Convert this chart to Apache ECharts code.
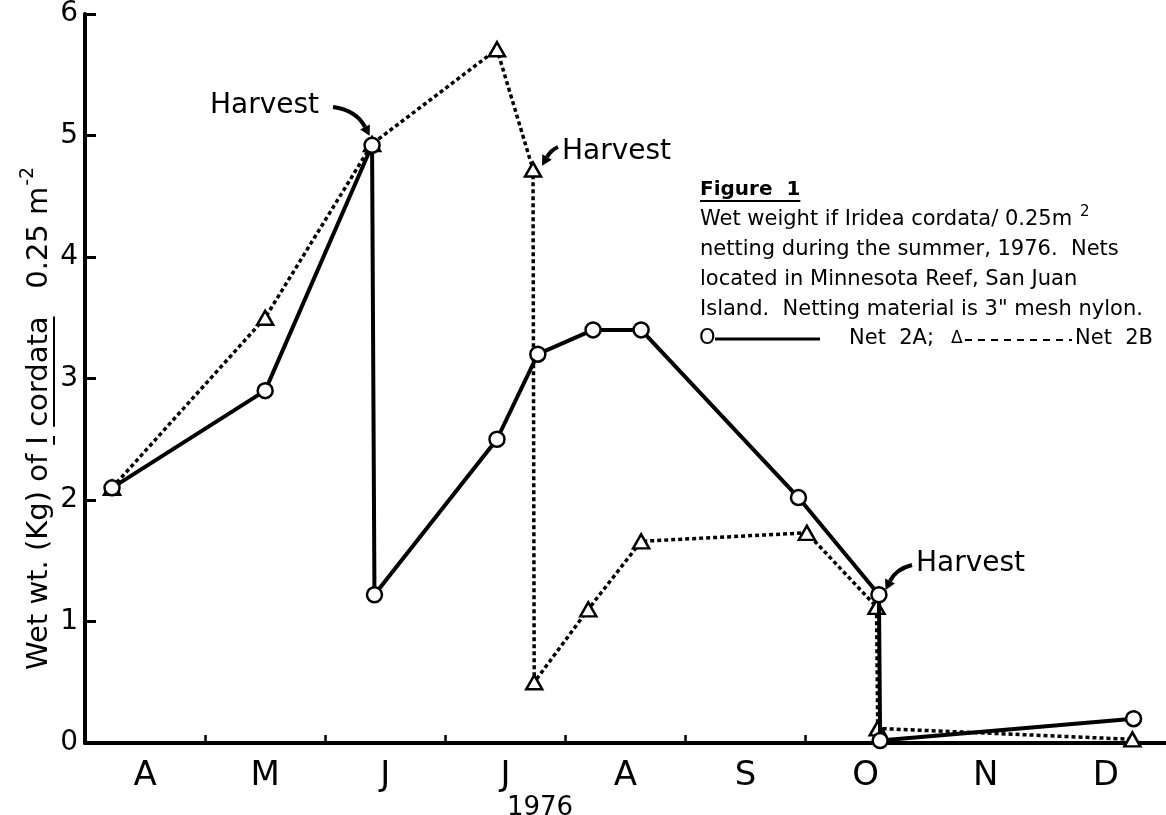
<!DOCTYPE html>
<html><head><meta charset="utf-8">
<script src="https://cdn.jsdelivr.net/npm/echarts@6/dist/echarts.min.js"></script>
<style>html,body{margin:0;padding:0;background:#fff}#c{width:1166px;height:815px}</style>
</head><body><div id="c"></div>
<script>
// ---- data (x = months since 1 April 1976) ----
const months = ['A','M','J','J','A','S','O','N','D'];
const monthEdgeTicks = [1,2,3,4,5,6];
const net2A_x = [0.225, 1.5, 2.39, 2.41, 3.43, 3.77, 4.23, 4.63, 5.94, 6.61, 6.62, 8.73];
const net2A_y = [2.1,   2.9, 4.92, 1.22, 2.5,  3.2,  3.4,  3.4,  2.02, 1.22, 0.02, 0.2];
const net2B_x = [0.225, 1.5, 2.39, 3.43, 3.73, 3.74, 4.19, 4.63, 6.01, 6.59, 6.6,  8.72];
const net2B_y = [2.1,   3.5, 4.93, 5.71, 4.72, 0.5,  1.1,  1.66, 1.73, 1.12, 0.12, 0.03];
const captionTitle = 'Figure  1';
const captionLines = [
  'Wet weight if Iridea cordata/ 0.25m',
  'netting during the summer, 1976.  Nets',
  'located in Minnesota Reef, San Juan',
  'Island.  Netting material is 3" mesh nylon.'
];
const yearLabel = '1976';
const harvestLabel = 'Harvest';

const F = 'DejaVu Sans';
const W = 'normal';
const ctx = document.createElement('canvas').getContext('2d');
function tw(t, size, weight){ ctx.font = (weight||'normal') + ' ' + size + 'px "' + F + '"'; return ctx.measureText(t).width; }

const zip = (xs, ys) => xs.map((x, i) => [x, ys[i]]);

// ---- y-axis title (rotated, with underlined species name) ----
const TS = 29;
const titleParts = [
  {t:'Wet wt. (Kg) of ', u:false},
  {t:'I', u:true},
  {t:' ', u:false},
  {t:'cordata', u:true},
  {t:'   0.25 m', u:false}
];
const titleChildren = [];
let cur = 0;
titleParts.forEach(p => {
  const w = tw(p.t, TS, W);
  titleChildren.push({type:'text', x:cur, y:-0.35*TS, style:{text:p.t, fontSize:TS, fontFamily:F, fontWeight:W, fill:'#000', verticalAlign:'middle', align:'left'}});
  if (p.u) titleChildren.push({type:'line', shape:{x1:cur, y1:4, x2:cur+w, y2:4}, style:{stroke:'#000', lineWidth:2}});
  cur += w;
});
titleChildren.push({type:'text', x:cur+1, y:-0.35*TS-12, style:{text:'-2', fontSize:19, fontFamily:F, fontWeight:W, fill:'#000', verticalAlign:'middle', align:'left'}});

// ---- arrows ----
function arrow(x1,y1,cx,cy,x2,y2){
  let dx = x2-cx, dy = y2-cy; const L = Math.hypot(dx,dy); dx/=L; dy/=L;
  const nx = -dy, ny = dx;
  return [
    {type:'bezierCurve', shape:{x1, y1, cpx1:cx, cpy1:cy, x2, y2}, style:{stroke:'#000', lineWidth:4, fill:null}},
    {type:'polygon', shape:{points:[[x2+dx*10, y2+dy*10],[x2+nx*5.5, y2+ny*5.5],[x2-nx*5.5, y2-ny*5.5]]}, style:{fill:'#000'}}
  ];
}

const CS = 21;
const capChildren = [];
capChildren.push({type:'text', x:700, y:190, style:{text:captionTitle, fontSize:20, fontWeight:'bold', fontFamily:F, fill:'#000', verticalAlign:'middle'}});
capChildren.push({type:'line', shape:{x1:700, y1:201, x2:700+tw(captionTitle,20,'bold'), y2:201}, style:{stroke:'#000', lineWidth:2}});
captionLines.forEach((t,i) => {
  capChildren.push({type:'text', x:700, y:220+i*30, style:{text:t, fontSize:CS, fontFamily:F, fontWeight:W, fill:'#000', verticalAlign:'middle'}});
});
capChildren.push({type:'text', x:700+tw(captionLines[0],CS,W)+8, y:212, style:{text:'2', fontSize:15, fontFamily:F, fontWeight:W, fill:'#000', verticalAlign:'middle'}});
// legend row
capChildren.push({type:'text', x:699, y:339, style:{text:'O', fontSize:CS, fontFamily:F, fontWeight:W, fill:'#000', verticalAlign:'middle'}});
capChildren.push({type:'line', shape:{x1:715, y1:339, x2:820, y2:339}, style:{stroke:'#000', lineWidth:3}});
capChildren.push({type:'text', x:849, y:339, style:{text:'Net  2A;', fontSize:CS, fontFamily:F, fontWeight:W, fill:'#000', verticalAlign:'middle'}});
capChildren.push({type:'text', x:951, y:339, style:{text:'\u0394', fontSize:17, fontFamily:F, fontWeight:W, fill:'#000', verticalAlign:'middle'}});
capChildren.push({type:'line', shape:{x1:965, y1:340, x2:1072, y2:340}, style:{stroke:'#000', lineWidth:2, lineDash:[7,6]}});
capChildren.push({type:'text', x:1075, y:339, style:{text:'Net  2B', fontSize:CS, fontFamily:F, fontWeight:W, fill:'#000', verticalAlign:'middle'}});

const HS = 28;
const annot = [
  {type:'text', x:210, y:106, style:{text:harvestLabel, fontSize:HS, fontFamily:F, fontWeight:W, fill:'#000', verticalAlign:'middle'}},
  ...arrow(333,107, 356,110, 365,127),
  {type:'text', x:562, y:152, style:{text:harvestLabel, fontSize:HS, fontFamily:F, fontWeight:W, fill:'#000', verticalAlign:'middle'}},
  ...arrow(558,147, 551,150, 547,157),
  {type:'text', x:916, y:564, style:{text:harvestLabel, fontSize:HS, fontFamily:F, fontWeight:W, fill:'#000', verticalAlign:'middle'}},
  ...arrow(912,565, 896,569, 890,581),
  {type:'text', x:540, y:808, style:{text:yearLabel, fontSize:26, fontFamily:F, fontWeight:W, fill:'#000', verticalAlign:'middle', align:'center'}}
];

const chart = echarts.init(document.getElementById('c'));
chart.setOption({
  animation:false,
  backgroundColor:'#fff',
  grid:{left:85, right:0, top:14, bottom:72, containLabel:false},
  xAxis:{
    type:'value', min:0, max:9, interval:1,
    axisLine:{show:true, onZero:false, lineStyle:{color:'#000', width:4}},
    axisTick:{show:true, inside:true, length:8, customValues:monthEdgeTicks, lineStyle:{color:'#000', width:2.5}},
    axisLabel:{customValues:months.map((m,i)=>i+0.5), formatter:v=>months[Math.floor(v)], fontSize:34, fontFamily:F, fontWeight:W, color:'#000', margin:33, verticalAlign:'middle'},
    splitLine:{show:false}
  },
  yAxis:{
    type:'value', min:0, max:6, interval:1,
    axisLine:{show:true, lineStyle:{color:'#000', width:4}},
    axisTick:{show:true, inside:true, length:11, lineStyle:{color:'#000', width:3}},
    axisLabel:{fontSize:28, fontFamily:F, fontWeight:W, color:'#000', margin:7},
    splitLine:{show:false}
  },
  series:[
    {name:'Net 2B', type:'line', data:zip(net2B_x, net2B_y), symbol:'triangle', symbolSize:[16,14], showAllSymbol:true,
     lineStyle:{color:'#000', width:3.5, type:[4,3], cap:'butt'}, itemStyle:{color:'#fff', borderColor:'#000', borderWidth:2.5}, z:2},
    {name:'Net 2A', type:'line', data:zip(net2A_x, net2A_y), symbol:'circle', symbolSize:15, showAllSymbol:true,
     lineStyle:{color:'#000', width:4}, itemStyle:{color:'#fff', borderColor:'#000', borderWidth:2.5}, z:3}
  ],
  graphic:[
    {type:'group', x:50, y:670, rotation:Math.PI/2, children:titleChildren},
    {type:'group', children:capChildren},
    {type:'group', children:annot}
  ]
});
</script></body></html>
